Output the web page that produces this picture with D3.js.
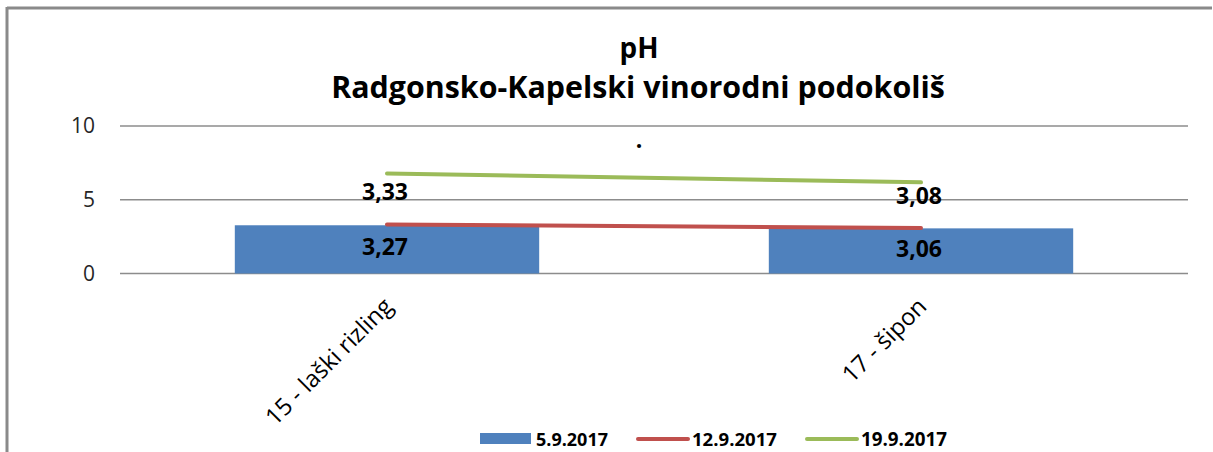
<!DOCTYPE html>
<html>
<head>
<meta charset="utf-8">
<script src="https://cdn.jsdelivr.net/npm/d3@7"></script>
<style>
  html, body { margin: 0; padding: 0; background: #fff; }
  svg { display: block; }
  text { font-family: "Open Sans", "Noto Sans", sans-serif; }
</style>
</head>
<body>
<svg id="chart" width="1213" height="452"></svg>
<script>
// ---- data ----
const categories = ["15 - laški rizling", "17 - šipon"];
const series5 = [3.27, 3.06];      // 5.9.2017 (bars)
const series12 = [3.33, 3.08];     // 12.9.2017 (stacked line)
const series19 = [3.45, 3.10];     // 19.9.2017 (stacked line, on top of 12.9.)
const seriesNames = ["5.9.2017", "12.9.2017", "19.9.2017"];
const yTicks = [0, 5, 10];
const titleLines = ["pH", "Radgonsko-Kapelski vinorodni podokoliš"];

const colors = { bar: "#4F81BD", red: "#C0504D", green: "#9BBB59", grid: "#8c8c8c" };

const svg = d3.select("#chart");
const W = 1213, H = 452;
const plot = { left: 120, right: 1188, top: 126, bottom: 273.5 };

function fit(sel, target) {
  sel.style("font-size", "20px");
  const w = sel.node().getComputedTextLength();
  sel.style("font-size", (20 * target / w) + "px");
  return sel;
}

// frame
svg.append("line").attr("x1", 7).attr("x2", 1212).attr("y1", 8).attr("y2", 8)
  .attr("stroke", "#8a8a8a").attr("stroke-width", 3);
svg.append("line").attr("x1", 7).attr("x2", 7).attr("y1", 7).attr("y2", H)
  .attr("stroke", "#8a8a8a").attr("stroke-width", 3);

const x = d3.scaleBand().domain(categories).range([plot.left, plot.right])
  .paddingInner(0.43).paddingOuter(0.215);
const y = d3.scaleLinear().domain([0, 10]).range([plot.bottom, plot.top]);
const cx = c => x(c) + x.bandwidth() / 2;

// gridlines
svg.append("g").selectAll("line").data(yTicks).join("line")
  .attr("x1", plot.left).attr("x2", plot.right)
  .attr("y1", d => y(d)).attr("y2", d => y(d))
  .attr("stroke", colors.grid).attr("stroke-width", 1.3);

// y axis labels
const yAxis = svg.append("g").attr("transform", `translate(${plot.left},0)`)
  .call(d3.axisLeft(y).tickValues(yTicks).tickSize(0).tickPadding(25));
yAxis.select(".domain").remove();
yAxis.selectAll("text").attr("fill", "#262626")
  .style("font-family", "'Open Sans', sans-serif").style("font-size", "21px");

// bars
svg.append("g").selectAll("rect").data(categories).join("rect")
  .attr("x", c => x(c)).attr("width", x.bandwidth())
  .attr("y", (c, i) => y(series5[i]))
  .attr("height", (c, i) => y(0) - y(series5[i]))
  .attr("fill", colors.bar);

// stacked lines
const stack12 = series12.slice();
const stack19 = series19.map((v, i) => v + series12[i]);
const line = d3.line().x((d, i) => cx(categories[i])).y(d => y(d));
svg.append("path").datum(stack12).attr("d", line)
  .attr("fill", "none").attr("stroke", colors.red).attr("stroke-width", 4).attr("stroke-linecap", "round");
svg.append("path").datum(stack19).attr("d", line)
  .attr("fill", "none").attr("stroke", colors.green).attr("stroke-width", 4).attr("stroke-linecap", "round");

const fmt = v => v.toFixed(2).replace(".", ",");

// bar labels
svg.append("g").selectAll("text").data(categories).join("text")
  .attr("x", c => cx(c) - 2)
  .attr("y", (c, i) => (y(series5[i]) + y(0)) / 2 + 6)
  .attr("text-anchor", "middle").attr("font-weight", "bold").attr("fill", "#000")
  .style("font-size", "23px")
  .text((c, i) => fmt(series5[i]));

// 12.9. labels (above points)
svg.append("g").selectAll("text").data(categories).join("text")
  .attr("x", c => cx(c) - 2)
  .attr("y", (c, i) => y(stack12[i]) - 24)
  .attr("text-anchor", "middle").attr("font-weight", "bold").attr("fill", "#000")
  .style("font-size", "23px")
  .text((c, i) => fmt(series12[i]));

// stray dot
svg.append("text").attr("x", 639).attr("y", 148).attr("text-anchor", "middle")
  .attr("font-weight", "bold").style("font-size", "23px").text(".");

// category labels
const catG = svg.append("g").selectAll("text").data(categories).join("text")
  .attr("text-anchor", "end").attr("fill", "#000")
  .attr("transform", c => `translate(${cx(c) + 7},${308}) rotate(-45)`)
  .text(c => c);
fit(d3.select(catG.nodes()[0]), 168);
const catSize = catG.nodes()[0].style.fontSize;
catG.style("font-size", catSize);

// title
const t1 = svg.append("text").attr("x", 639).attr("y", 58).attr("text-anchor", "middle")
  .attr("font-weight", "bold").text(titleLines[0]);
fit(t1, 39);
const t2 = svg.append("text").attr("x", 638).attr("y", 98).attr("text-anchor", "middle")
  .attr("font-weight", "bold").text(titleLines[1]);
fit(t2, 614);

// legend
const leg = svg.append("g");
let lx = 480;
const legTargets = [72, 85, 86];
seriesNames.forEach((name, i) => {
  if (i === 0) {
    leg.append("rect").attr("x", lx).attr("y", 433).attr("width", 51).attr("height", 11).attr("fill", colors.bar);
  } else {
    leg.append("line").attr("x1", lx + 2).attr("x2", lx + 52).attr("y1", 439).attr("y2", 439)
      .attr("stroke", i === 1 ? colors.red : colors.green).attr("stroke-width", 4).attr("stroke-linecap", "round");
  }
  const t = leg.append("text").attr("x", lx + 56).attr("y", 446).attr("font-weight", "bold").text(name);
  fit(t, legTargets[i]);
  lx = lx + 56 + legTargets[i] + 28;
});
</script>
</body>
</html>
